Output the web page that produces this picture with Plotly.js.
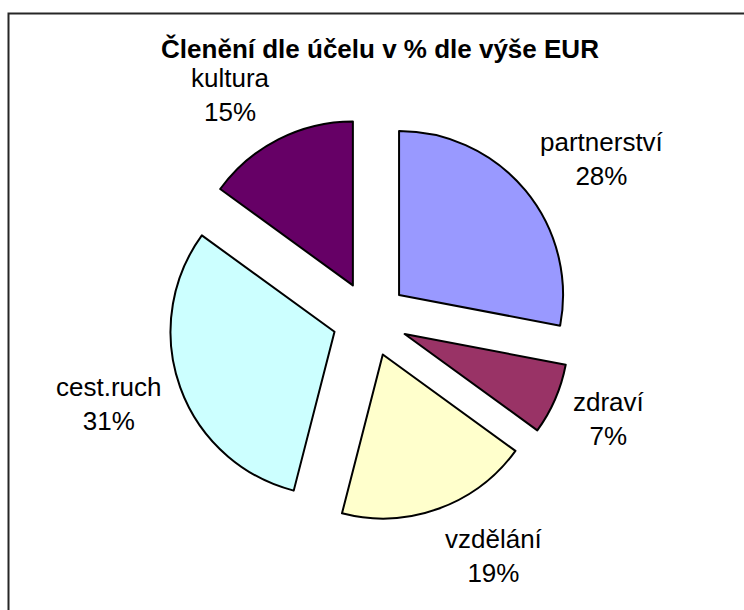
<!DOCTYPE html>
<html>
<head>
<meta charset="utf-8">
<script src="https://cdn.plot.ly/plotly-3.0.1.min.js"></script>
<style>
  html, body { margin: 0; padding: 0; background: #ffffff; }
  #chart { width: 744px; height: 610px; }
</style>
</head>
<body>
<div id="chart"></div>
<script>
// Data
const categories = ["partnerství", "zdraví", "vzdělání", "cest.ruch", "kultura"];
const values = [28, 7, 19, 31, 15];
const colors = ["#9999FF", "#993366", "#FFFFCC", "#CCFFFF", "#660066"];
const chartTitle = "Členění dle účelu v % dle výše EUR";

const W = 744, H = 610;
const cx = 370, cy = 319, r = 164, pull = 0.23;
const half = r * (1 + pull);
const FONT = "Liberation Sans, Arial, sans-serif";
const LABEL_SIZE = 26;

const trace = {
  type: "pie",
  labels: categories,
  values: values,
  sort: false,
  direction: "clockwise",
  rotation: 0,
  pull: pull,
  marker: { colors: colors, line: { color: "#000000", width: 2 } },
  textinfo: "none",
  hoverinfo: "label+percent",
  showlegend: false,
  domain: {
    x: [(cx - half) / W, (cx + half) / W],
    y: [(H - cy - half) / H, (H - cy + half) / H]
  }
};

// Outside labels placed like a spreadsheet's "best fit": beyond each slice's arc midpoint
const ctx = document.createElement("canvas").getContext("2d");
ctx.font = LABEL_SIZE + "px 'Liberation Sans'";
const total = values.reduce((a, b) => a + b, 0);
let cum = 0;
const gapX = 20, gapY = 16;
const lineH = LABEL_SIZE * 1.3;
const annotations = categories.map((cat, i) => {
  const frac = values[i] / total;
  const mid = cum + frac / 2;
  cum += frac;
  const th = 2 * Math.PI * mid;
  const dx = Math.sin(th), dy = -Math.cos(th);
  const pctText = Math.round(frac * 100) + "%";
  const w = Math.max(ctx.measureText(cat).width, ctx.measureText(pctText).width);
  const h = 2 * lineH;
  const ox = cx + dx * r * (1 + pull);
  const oy = cy + dy * r * (1 + pull);
  const px = ox + dx * gapX + Math.sign(dx) * w / 2;
  const py = oy + dy * gapY + dy * h / 2;
  return {
    xref: "paper", yref: "paper",
    x: px / W, y: 1 - py / H,
    xanchor: "center", yanchor: "middle",
    text: cat + "<br>" + pctText,
    showarrow: false,
    font: { family: FONT, size: LABEL_SIZE, color: "#000000" }
  };
});

const layout = {
  width: W,
  height: H,
  margin: { l: 0, r: 0, t: 0, b: 0 },
  paper_bgcolor: "#ffffff",
  plot_bgcolor: "#ffffff",
  showlegend: false,
  title: {
    text: "<b>" + chartTitle + "</b>",
    font: { family: FONT, size: 26, color: "#000000" },
    x: 380 / W,
    xanchor: "center",
    y: 1 - 49 / H,
    yanchor: "middle",
    xref: "container",
    yref: "container"
  },
  annotations: annotations,
  shapes: [{
    type: "rect",
    xref: "paper", yref: "paper",
    x0: 8.5 / W, x1: 1.02,
    y0: -0.02, y1: 1 - 13.5 / H,
    line: { color: "#262626", width: 2 },
    fillcolor: "rgba(0,0,0,0)",
    layer: "below"
  }]
};

Plotly.newPlot("chart", [trace], layout, { displayModeBar: false, staticPlot: true });
</script>
</body>
</html>
